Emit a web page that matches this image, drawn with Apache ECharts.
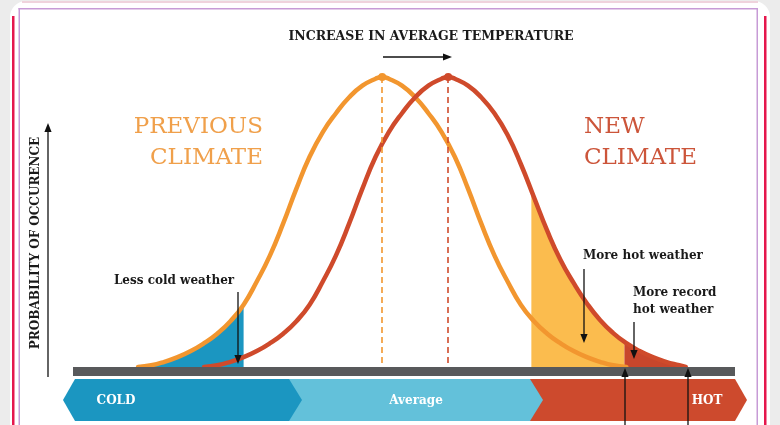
<!DOCTYPE html>
<html><head><meta charset="utf-8">
<script src="https://cdn.jsdelivr.net/npm/echarts@6/dist/echarts.min.js"></script>
<style>html,body{margin:0;padding:0;background:#ececec}#c{width:780px;height:425px}</style>
</head><body><div id="c"></div>
<script>
// ---- data (temperature units along x, probability along y, peak = 100) ----
const orangeTemp = [10,12,14,16,18,20,22,24,26,28,30,32,34,36,38,40,42,44,46,47,48,50,52,54,56,58,60,62,64,66,68,70,72,74,76,78,80,82,84];
const orangeProb = [0,0.6,1.8,3.4,5.5,8.2,11.5,15.8,21.5,29.5,38.5,49.5,61.5,72.5,81,87.5,93,97,99.4,100,99.4,97,93,87.5,81,72.5,61.5,49.5,38.5,29.5,21.5,15.8,11.5,8.2,5.5,3.4,1.8,0.6,0];
const redTemp = [20,22,24,26,28,30,32,34,36,38,40,42,44,46,48,50,52,54,56,57,58,60,62,64,66,68,70,72,74,76,78,80,82,84,86,88,90,92,93];
const redProb = [0,0.6,1.8,3.4,5.5,8.2,11.5,15.8,21.5,29.5,38.5,49.5,61.5,72.5,81,87.5,93,97,99.4,100,99.4,97,93,87.5,80,70,58.5,47,37,29,22,16.2,11.7,8.2,5.5,3.4,1.8,0.6,0];
const coldTemp = [10,12,14,16,18,20,22,24,26];
const coldProb = [0,0.6,1.8,3.4,5.5,8.2,11.5,15.8,21.5];
const hotTemp = [69.6,70,72,74,76,78,80,82,83.7];
const hotProb = [61,58.5,47,37,29,22,16.2,11.7,8.6];
const recordTemp = [83.7,84,86,88,90,92,93];
const recordProb = [8.6,8.2,5.5,3.4,1.8,0.6,0];
const previousMean = 47, newMean = 57;
const bandLabels = ['COLD','Average','HOT'];
const titleText = 'INCREASE IN AVERAGE TEMPERATURE';
const yTitle = 'PROBABILITY OF OCCURENCE';

const pairs = (xs, ys) => xs.map((x, i) => [x, ys[i]]);
const ORANGE = '#f2962f', RED = '#cf4a2b';
const SERIF = '"DejaVu Serif"';

function arrow(x1, y1, x2, y2) {
  const ang = Math.atan2(y2 - y1, x2 - x1), L = 9, W = 3.6;
  const bx = x2 - L * Math.cos(ang), by = y2 - L * Math.sin(ang);
  const px = -Math.sin(ang) * W, py = Math.cos(ang) * W;
  return [
    {type:'line', z:20, shape:{x1, y1, x2:bx, y2:by}, style:{stroke:'#111', lineWidth:1.3}},
    {type:'polygon', z:20, shape:{points:[[x2,y2],[bx+px,by+py],[bx-px,by-py]]}, style:{fill:'#111'}}
  ];
}
function txt(text, x, y, font, fill, align, extra) {
  return Object.assign({type:'text', z:20, x, y, style:{text, font, fill, textAlign:align||'center', textVerticalAlign:'middle'}}, extra||{});
}

const g = [];
// frame
g.push({type:'rect', z:0, shape:{x:10,y:1,width:760,height:440,r:16}, style:{fill:'#fff'}});
g.push({type:'rect', z:0, shape:{x:22,y:1,width:736,height:2}, style:{fill:'#efd3dc'}});
g.push({type:'rect', z:0, shape:{x:12,y:16,width:2.5,height:420}, style:{fill:'#e5174d'}});
g.push({type:'rect', z:0, shape:{x:764,y:16,width:2.5,height:420}, style:{fill:'#e5174d'}});
g.push({type:'rect', z:0, shape:{x:18.5,y:8,width:1.5,height:430}, style:{fill:'#c79bd6'}});
g.push({type:'rect', z:0, shape:{x:756.5,y:8,width:1.5,height:430}, style:{fill:'#c79bd6'}});
g.push({type:'rect', z:0, shape:{x:18.5,y:8,width:739.5,height:1.5}, style:{fill:'#c79bd6'}});
// bands
g.push({type:'polygon', z:6, shape:{points:[[530,379],[735,379],[747,400],[735,421],[530,421]]}, style:{fill:'#cd4a2d'}});
g.push({type:'polygon', z:7, shape:{points:[[289,379],[530,379],[543,400],[530,421],[289,421]]}, style:{fill:'#63c1da'}});
g.push({type:'polygon', z:8, shape:{points:[[75,379],[289,379],[302,400],[289,421],[75,421],[63,400]]}, style:{fill:'#1b96c1'}});
g.push(txt(bandLabels[0], 116, 401, 'bold 12px ' + SERIF, '#fff'));
g.push(txt(bandLabels[1], 416, 401, 'bold 12px ' + SERIF, '#fff'));
g.push(txt(bandLabels[2], 707, 401, 'bold 12px ' + SERIF, '#fff'));
// baseline bar
g.push({type:'rect', z:9, shape:{x:73,y:367,width:662,height:9}, style:{fill:'#58595b'}});
// titles
g.push(txt(titleText, 431, 37, 'bold 12.5px ' + SERIF, '#1a1a1a'));
g.push(...arrow(383, 57, 452, 57));
g.push(txt(yTitle, 36, 243, 'bold 12px ' + SERIF, '#1a1a1a', 'center', {rotation: Math.PI/2}));
g.push(...arrow(48, 377, 48, 123));
g.push(txt('PREVIOUS', 263, 127, '23px ' + SERIF, '#f0a04b', 'right'));
g.push(txt('CLIMATE', 263, 158, '23px ' + SERIF, '#f0a04b', 'right'));
g.push(txt('NEW', 584, 127, '23px ' + SERIF, '#cc553a', 'left'));
g.push(txt('CLIMATE', 584, 158, '23px ' + SERIF, '#cc553a', 'left'));
// annotations
g.push(txt('Less cold weather', 174, 281, 'bold 12px ' + SERIF, '#1a1a1a'));
g.push(...arrow(238, 292, 238, 364));
g.push(txt('More hot weather', 583, 256, 'bold 12px ' + SERIF, '#1a1a1a', 'left'));
g.push(...arrow(584, 269, 584, 343));
g.push(txt('More record', 633, 293, 'bold 12px ' + SERIF, '#1a1a1a', 'left'));
g.push(txt('hot weather', 633, 310, 'bold 12px ' + SERIF, '#1a1a1a', 'left'));
g.push(...arrow(634, 322, 634, 359));
g.push(...arrow(625, 430, 625, 368));
g.push(...arrow(688, 430, 688, 368));

function fill(xs, ys, color) {
  return {type:'line', data:pairs(xs, ys), smooth:0.5, showSymbol:false, silent:true, z:1,
    lineStyle:{width:0, opacity:0}, areaStyle:{color, opacity:1}};
}
function curve(xs, ys, color, mean, z) {
  return {type:'line', data:pairs(xs, ys), smooth:0.5, showSymbol:false, silent:true, z,
    lineStyle:{width:4.5, color, cap:'round'},
    markLine:{silent:true, symbol:'none', label:{show:false}, lineStyle:{color, type:[6,4], width:1.6},
      data:[[{coord:[mean,100]},{coord:[mean,0]}]]},
    markPoint:{silent:true, symbol:'circle', symbolSize:8, itemStyle:{color}, label:{show:false},
      data:[{coord:[mean,100]}]}};
}

const chart = echarts.init(document.getElementById('c'), null, {renderer:'canvas'});
chart.setOption({
  animation:false,
  grid:{left:72, right:48, top:77, bottom:58},
  xAxis:{type:'value', min:0, max:100, show:false},
  yAxis:{type:'value', min:0, max:100, show:false},
  graphic:{elements:g},
  series:[
    fill(coldTemp, coldProb, '#1b96c1'),
    fill(hotTemp, hotProb, '#fbbc4e'),
    fill(recordTemp, recordProb, '#c8462c'),
    curve(orangeTemp, orangeProb, ORANGE, previousMean, 3),
    curve(redTemp, redProb, RED, newMean, 4)
  ]
});
</script></body></html>
